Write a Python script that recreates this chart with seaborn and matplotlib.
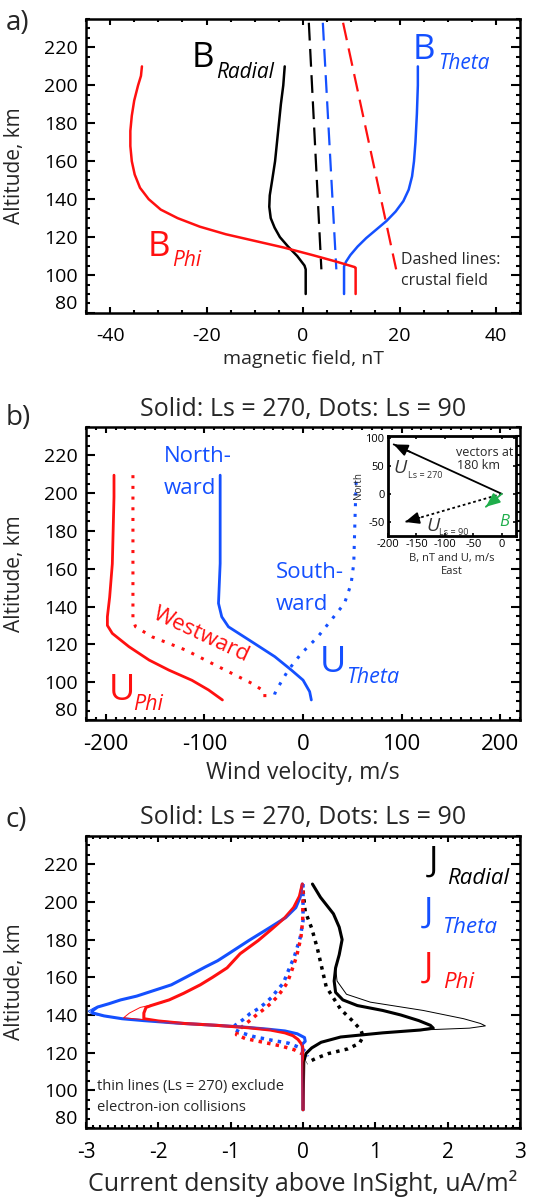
import seaborn as sns
from matplotlib import pyplot as plt
from matplotlib.ticker import MultipleLocator

# ---- panel a: magnetic field, nT ----
alt_b_radial = [210, 200, 190, 180, 170, 160, 150, 142, 136, 130, 125, 120, 115, 110, 105, 103, 90]
b_radial = [-3.8, -4.1, -4.6, -5.0, -5.4, -5.8, -6.4, -6.9, -7.0, -6.7, -5.9, -4.8, -3.1, -1.2, 0.3, 0.55, 0.55]
alt_b_phi = [210, 205, 200, 192, 184, 176, 168, 160, 153, 146, 140, 134.5, 130, 125.5, 121.5, 118, 114.5,
             110.5, 107, 104.2, 103.8, 90]
b_phi = [-33.4, -33.6, -34.2, -35.0, -35.5, -35.8, -35.8, -35.5, -34.9, -33.8, -32.0, -29.5, -26.0, -21.4,
         -16.0, -10.0, -4.0, 2.0, 7.0, 10.7, 10.9, 10.9]
alt_b_theta = [210, 200, 185, 170, 160, 152, 145, 139, 133.5, 128.5, 124, 119.5, 115, 110.5, 107, 104.5, 90]
b_theta = [23.8, 23.8, 23.6, 23.3, 23.0, 22.6, 21.9, 20.8, 19.2, 17.3, 15.2, 13.1, 11.3, 9.8, 8.9, 8.5, 8.5]
alt_crust = [233, 103]
crust_radial = [1.2, 3.8]
crust_theta = [4.1, 6.9]
crust_phi = [8.3, 19.3]

# ---- panel b: wind velocity, m/s ----
alt_u_phi = [209.5, 198, 162.6, 145, 134.6, 130, 125.8, 118.8, 111.7, 106.4, 101, 95.9, 90.6]
u_phi_270 = [-191.6, -191.6, -193.3, -196, -198.3, -198.3, -193.3, -176.5, -156, -136, -112.6, -95.8, -81.7]
alt_u_phi_90 = [209.5, 162.8, 133, 129.3, 124, 117, 108.2, 99.4, 95, 90.6]
u_phi_90 = [-172.4, -172.4, -172.4, -169.7, -153, -119, -85.7, -52, -38.7, -38.7]
alt_u_theta = [209.5, 162.8, 141.7, 134.6, 129.3, 121.4, 113.5, 106.4, 101.1, 95, 90.6]
u_theta_270 = [-84, -84, -85.7, -82.4, -75.6, -52, -28.6, -11.8, 0, 6.7, 8.4]
alt_u_theta_90 = [206, 189, 162.8, 152, 141.7, 132.9, 124, 115.2, 106.4, 97.6, 94, 90.6]
u_theta_90 = [53.8, 52.8, 51.4, 48.7, 42, 28.6, 15, -1.7, -15, -25, -28.6, -30.2]

# inset: vectors at 180 km (east, north)
vec_names = ["U270", "U90", "B"]
vec_east = [-190, -170, -28]
vec_north = [88, -50, -23]

# ---- panel c: current density, uA/m2 ----
alt_j_radial = [209.5, 202.5, 193.7, 186.6, 180, 172, 165, 158, 152, 148, 145, 142.4, 140, 137, 134.5, 133,
                132, 130.5, 128.3, 125.5, 122.5, 119.5, 115, 89.7]
j_radial = [0.13, 0.24, 0.42, 0.50, 0.54, 0.50, 0.45, 0.43, 0.45, 0.55, 0.75, 1.10, 1.35, 1.60, 1.76, 1.80,
            1.62, 1.10, 0.52, 0.25, 0.12, 0.04, 0.01, 0.0]
alt_j_radial_thin = [209.5, 202.5, 193.7, 186.6, 180, 172, 165, 158, 151, 146.8, 142.4, 138, 135.5, 134.2, 133,
                     132, 130.5, 128.3, 125.5, 122.5, 119.5, 115, 89.7]
j_radial_thin = [0.13, 0.24, 0.42, 0.50, 0.54, 0.50, 0.45, 0.47, 0.60, 0.93, 1.66, 2.22, 2.45, 2.52, 2.3,
                 1.62, 1.10, 0.52, 0.25, 0.12, 0.04, 0.01, 0.0]
alt_j_radial_90 = [206, 195, 186, 175, 165, 155, 149, 143, 137, 132, 128.5, 125, 122, 119.5, 117, 114.5]
j_radial_90 = [0.0, 0.03, 0.12, 0.2, 0.26, 0.32, 0.42, 0.52, 0.68, 0.80, 0.83, 0.78, 0.62, 0.35, 0.18, 0.05]

alt_j_theta = [209.5, 202.5, 197, 191.7, 186.6, 179.5, 172.5, 168.8, 165.5, 160, 156, 153.5, 150, 148, 146, 144.2,
               142, 141, 139.5, 138, 137, 135.7, 134.5, 133.5, 132.5, 131.5, 130, 128, 126, 124.5, 89.7]
j_theta = [-0.01, -0.04, -0.1, -0.24, -0.45, -0.75, -1.03, -1.18, -1.35, -1.62, -1.82, -2.02, -2.3, -2.52, -2.68,
           -2.84, -2.92, -2.9, -2.75, -2.5, -2.2, -1.75, -1.2, -0.8, -0.5, -0.25, -0.08, 0.02, 0.03, -0.01, 0.0]
alt_j_theta_thin = [209.5, 202.5, 197, 191.7, 186.6, 179.5, 172.5, 168.8, 165.5, 160, 156, 153.5, 150, 148, 146,
                    144, 142, 140.5, 139, 137.5, 135.7, 134.5, 133.5, 132.5, 131.5, 130, 128, 126, 124.5, 89.7]
j_theta_thin = [-0.01, -0.04, -0.1, -0.24, -0.45, -0.75, -1.03, -1.18, -1.35, -1.62, -1.82, -2.02, -2.3, -2.52,
                -2.68, -2.88, -2.97, -2.92, -2.7, -2.35, -1.75, -1.2, -0.8, -0.5, -0.25, -0.08, 0.02, 0.03, -0.01,
                0.0]
alt_j_theta_90 = [209.5, 190, 181, 171, 162, 157, 153, 149.5, 146, 143.3, 140.8, 137.5, 134.5, 132.5, 130.5, 128.5,
                  126.7, 125, 122.3, 120, 118]
j_theta_90 = [0.0, 0.0, -0.04, -0.12, -0.22, -0.27, -0.36, -0.43, -0.53, -0.62, -0.73, -0.83, -0.94, -0.96, -0.85,
              -0.68, -0.45, -0.2, -0.02, 0.05, 0.06]

alt_j_phi = [209.5, 203, 197, 191.7, 185, 179.5, 172.5, 165, 160, 156, 151.5, 148, 145, 144, 141, 138, 136.8, 135.5,
             134.5, 133.2, 132, 130.5, 129, 127, 124.5, 123, 89.7]
j_phi = [-0.01, -0.05, -0.13, -0.25, -0.45, -0.62, -0.87, -1.05, -1.25, -1.42, -1.65, -1.85, -2.1, -2.17, -2.2,
         -2.2, -2.0, -1.65, -1.2, -0.75, -0.45, -0.25, -0.14, -0.07, -0.02, -0.005, 0.0]
alt_j_phi_thin = [209.5, 203, 197, 191.7, 185, 179.5, 172.5, 165, 160, 156, 151.5, 148, 146.5, 144, 141, 138.5,
                  137.5, 136.5, 135.5, 134.5, 133.2, 132, 130.5, 129, 127, 124.5, 123, 89.7]
j_phi_thin = [-0.01, -0.05, -0.13, -0.25, -0.45, -0.62, -0.87, -1.05, -1.25, -1.42, -1.65, -1.85, -1.95, -2.25,
              -2.4, -2.48, -2.2, -1.9, -1.65, -1.2, -0.75, -0.45, -0.25, -0.14, -0.07, -0.02, -0.005, 0.0]
alt_j_phi_90 = [206, 190, 181, 171, 162, 157, 153, 149.5, 146, 143.3, 140.8, 137.5, 134.5, 131.5, 129.5, 127.5,
                125.5, 123.5, 121.5, 119.5]
j_phi_90 = [0.0, -0.005, -0.03, -0.09, -0.17, -0.22, -0.29, -0.36, -0.45, -0.53, -0.62, -0.72, -0.82, -0.9, -0.92,
            -0.8, -0.55, -0.3, -0.12, -0.02]

alt_ticks = [80, 100, 120, 140, 160, 180, 200, 220]

RED = "#ff1010"
BLUE = "#1450ff"
GREEN = "#1fae4b"
DOTS = (0, (1, 2.5))
DASH = (0, (8, 3.8))

sns.set_theme(style="ticks")
plt.rcParams["font.family"] = ["Open Sans", "DejaVu Sans"]
plt.rcParams["axes.linewidth"] = 1.8
plt.rcParams["axes.unicode_minus"] = False


def draw(ax, x, y, color, lw=2.0, ls="-"):
    sns.lineplot(x=x, y=y, sort=False, estimator=None, color=color, lw=lw,
                 linestyle=ls, ax=ax, legend=False)


def frame(ax, xlim, xmajor, xminor, xsize):
    ax.set_xlim(*xlim)
    ax.set_ylim(80, 235)
    ax.set_yticks(alt_ticks)
    ax.xaxis.set_major_locator(MultipleLocator(xmajor))
    ax.xaxis.set_minor_locator(MultipleLocator(xminor))
    ax.yaxis.set_minor_locator(MultipleLocator(5))
    ax.tick_params(which="both", direction="in", top=True, right=True, width=1.5, colors="black")
    ax.tick_params(axis="x", which="major", length=4.5, pad=10, labelsize=xsize)
    ax.tick_params(axis="x", which="minor", length=2.2)
    ax.tick_params(axis="y", which="major", length=6.5, pad=6, labelsize=14)
    ax.tick_params(axis="y", which="minor", length=3.2)
    ax.set_ylabel("Altitude, km", fontsize=15)
    ax.yaxis.set_label_coords(-0.14, 0.5)
    for s in ax.spines.values():
        s.set_color("black")
    ax.get_yticklabels()[0].set_va("bottom")


def sub_label(ax, x, y, main, sub, color, size, subsize, dx, dy):
    ax.text(x, y, main, color=color, fontsize=size, ha="left", va="baseline")
    ax.annotate(sub, xy=(x, y), xytext=(dx, dy), textcoords="offset points", color=color,
                fontsize=subsize, style="italic", ha="left", va="baseline")


fig = plt.figure(figsize=(5.34, 12.01), dpi=100)
ax_a = fig.add_axes([0.161, 0.7394, 0.813, 0.2448])
ax_b = fig.add_axes([0.161, 0.4005, 0.813, 0.2440])
ax_c = fig.add_axes([0.161, 0.0608, 0.813, 0.2431])

# panel a
draw(ax_a, crust_radial, alt_crust, "black", 1.6, DASH)
draw(ax_a, crust_theta, alt_crust, BLUE, 1.6, DASH)
draw(ax_a, crust_phi, alt_crust, RED, 1.6, DASH)
draw(ax_a, b_radial, alt_b_radial, "black", 1.8)
draw(ax_a, b_theta, alt_b_theta, BLUE, 1.8)
draw(ax_a, b_phi, alt_b_phi, RED, 1.8)
frame(ax_a, (-45, 45), 20, 5, 14)
ax_a.set_xlabel("magnetic field, nT", fontsize=14)
ax_a.xaxis.set_label_coords(0.5, -0.125)
sub_label(ax_a, -23.1, 209.5, "B", "Radial", "black", 25, 15, 17.5, -7.5)
sub_label(ax_a, 22.8, 214, "B", "Theta", BLUE, 25, 15, 18, -7.5)
sub_label(ax_a, -32.2, 110, "B", "Phi", RED, 25, 15, 17.5, -7.5)
ax_a.text(20.3, 106, "Dashed lines:", fontsize=11.5, va="baseline")
ax_a.text(20.3, 94.6, "crustal field", fontsize=11.5, va="baseline")

# panel b
draw(ax_b, u_phi_90, alt_u_phi_90, RED, 2.2, DOTS)
draw(ax_b, u_theta_90, alt_u_theta_90, BLUE, 2.2, DOTS)
draw(ax_b, u_phi_270, alt_u_phi, RED, 2.0)
draw(ax_b, u_theta_270, alt_u_theta, BLUE, 2.0)
frame(ax_b, (-220, 220), 100, 10, 16)
ax_b.set_title("Solid: Ls = 270, Dots: Ls = 90", fontsize=18, pad=8)
ax_b.set_xlabel("Wind velocity, m/s", fontsize=16.5)
ax_b.xaxis.set_label_coords(0.5, -0.14)
ax_b.text(-141, 216.6, "North-", color=BLUE, fontsize=16, va="baseline")
ax_b.text(-141, 199.8, "ward", color=BLUE, fontsize=16, va="baseline")
ax_b.text(-28, 154.9, "South-", color=BLUE, fontsize=16, va="baseline")
ax_b.text(-28, 138.1, "ward", color=BLUE, fontsize=16, va="baseline")
ax_b.text(-103, 125, "Westward", color=RED, fontsize=16, rotation=-25,
          ha="center", va="center", rotation_mode="anchor")
sub_label(ax_b, -197, 90.6, "U", "Phi", RED, 26, 15.5, 17.5, -7.5)
sub_label(ax_b, 16.8, 105.5, "U", "Theta", BLUE, 26, 15.5, 19, -8)

# inset vectors
ax_in = fig.add_axes([0.7266, 0.5537, 0.2397, 0.0833])
for e, n, name in zip(vec_east, vec_north, vec_names):
    col = GREEN if name == "B" else "black"
    ls = (0, (1.5, 1.5)) if name == "U90" else "-"
    draw(ax_in, [0, e], [0, n], col, 1.3, ls)
    ax_in.annotate("", xy=(e, n), xytext=(0.85 * e, 0.85 * n),
                   arrowprops=dict(arrowstyle="-|>,head_length=0.7,head_width=0.3",
                                   color=col, lw=1.3, shrinkA=0, shrinkB=0))
ax_in.set_xlim(-200, 25)
ax_in.set_ylim(-75, 103)
ax_in.set_xticks([-200, -150, -100, -50, 0])
ax_in.set_yticks([-50, 0, 50, 100])
ax_in.tick_params(which="both", direction="in", top=True, right=True, length=2.5, width=1.2,
                  labelsize=8, pad=2.5, colors="black")
for s in ax_in.spines.values():
    s.set_linewidth(2.0)
    s.set_color("black")
ax_in.set_xlabel("B, nT and U, m/s\nEast", fontsize=8, labelpad=2, linespacing=1.2)
ax_in.set_ylabel("North", fontsize=7, labelpad=1)
ax_in.text(-80, 67, "vectors at", fontsize=9, va="baseline")
ax_in.text(-78, 45, "180 km", fontsize=9, va="baseline")
ax_in.text(-190, 36.5, "U", fontsize=14, color="#333333", style="italic", va="baseline")
ax_in.text(-165, 28.7, "Ls = 270", fontsize=6.5, color="#333333", va="baseline")
ax_in.text(-132, -66.5, "U", fontsize=14, color="#333333", style="italic", va="baseline")
ax_in.text(-110, -74, "Ls = 90", fontsize=6.5, color="#333333", va="baseline")
ax_in.text(-5, -56.4, "B", fontsize=12, color=GREEN, style="italic", va="baseline")

# panel c
draw(ax_c, j_radial_90, alt_j_radial_90, "black", 2.5, (0, (1, 1.5)))
draw(ax_c, j_theta_90, alt_j_theta_90, BLUE, 2.5, (0, (1, 1.5)))
draw(ax_c, j_phi_90, alt_j_phi_90, RED, 2.5, (0, (1, 1.5)))
draw(ax_c, j_radial, alt_j_radial, "black", 2.2)
draw(ax_c, j_theta, alt_j_theta, BLUE, 2.2)
draw(ax_c, j_phi, alt_j_phi, RED, 2.2)
draw(ax_c, j_radial_thin, alt_j_radial_thin, "black", 0.7)
draw(ax_c, j_theta_thin, alt_j_theta_thin, BLUE, 0.7)
draw(ax_c, j_phi_thin, alt_j_phi_thin, RED, 0.7)
frame(ax_c, (-3, 3), 1, 0.1, 15)
ax_c.set_title("Solid: Ls = 270, Dots: Ls = 90", fontsize=18, pad=9)
ax_c.set_xlabel("Current density above InSight, uA/m²", fontsize=18)
ax_c.xaxis.set_label_coords(0.5, -0.145)
sub_label(ax_c, 1.74, 216.6, "J", "Radial", "black", 25, 16, 13, -9.5)
sub_label(ax_c, 1.67, 189.3, "J", "Theta", BLUE, 25, 16, 14, -8)
sub_label(ax_c, 1.67, 160.2, "J", "Phi", RED, 25, 16, 14, -8)
ax_c.text(-2.85, 100.3, "thin lines (Ls = 270) exclude", fontsize=10.5, va="baseline")
ax_c.text(-2.85, 88.8, "electron-ion collisions", fontsize=10.5, va="baseline")

fig.text(0.01, 0.975, "a)", fontsize=20, va="baseline")
fig.text(0.01, 0.646, "b)", fontsize=20, va="baseline")
fig.text(0.01, 0.311, "c)", fontsize=20, va="baseline")

fig.savefig("out.png", dpi=100)
